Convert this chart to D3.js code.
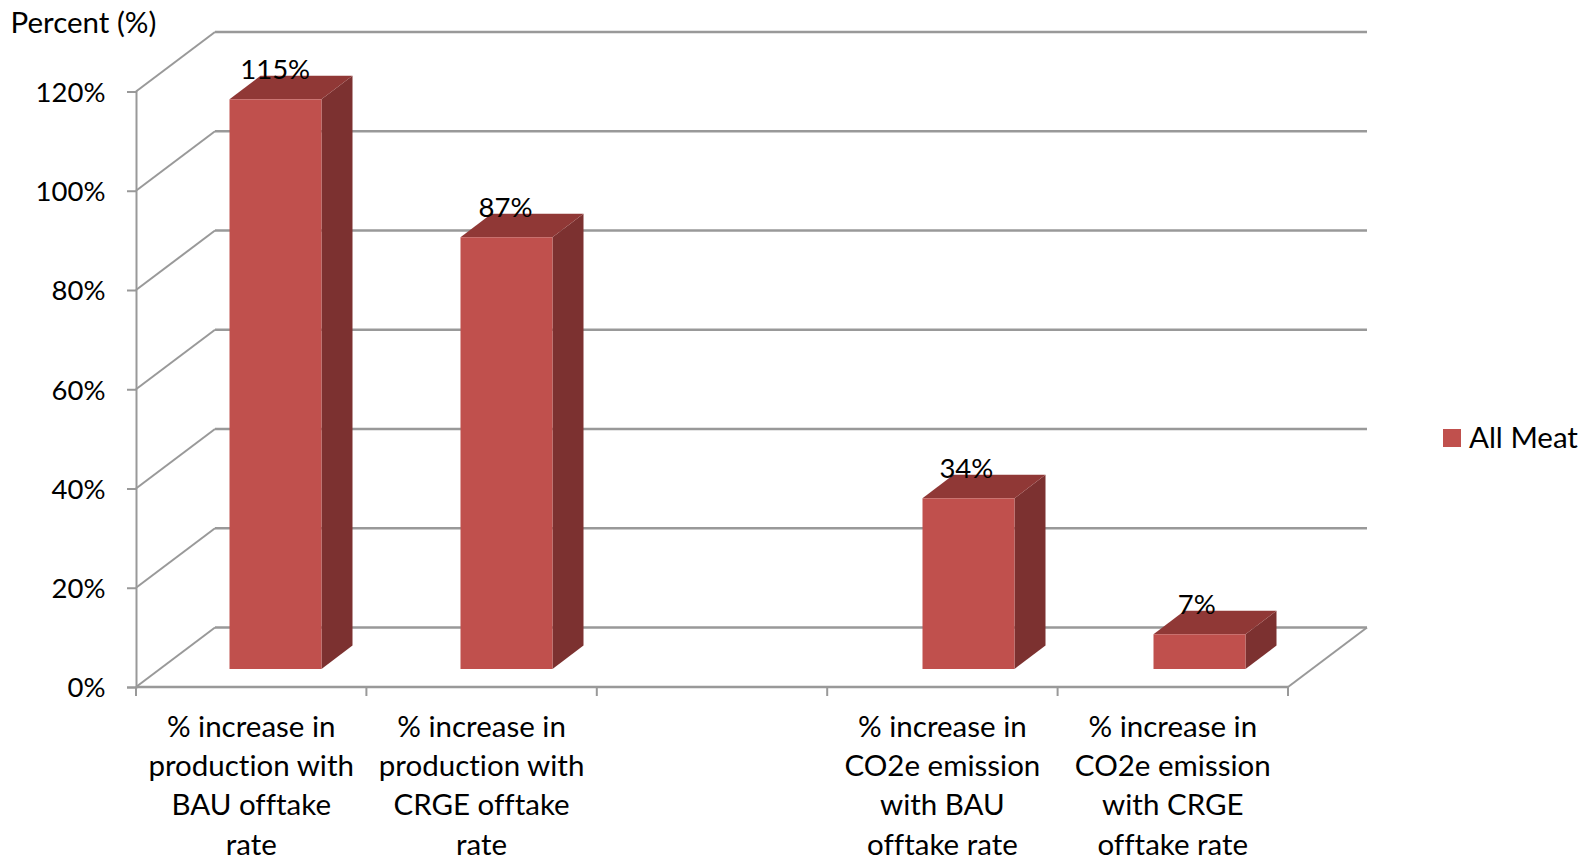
<!DOCTYPE html>
<html>
<head>
<meta charset="utf-8">
<script src="https://cdn.jsdelivr.net/npm/d3@7"></script>
<style>
html,body{margin:0;padding:0;background:#fff;overflow:hidden}
text{font-family:Lato,"Open Sans",sans-serif;fill:#000;font-variant-ligatures:none}
</style>
</head>
<body>
<svg id="c" width="1586" height="865"></svg>
<script>
const categories = ["bau-prod","crge-prod","gap","bau-co2","crge-co2"];
const categoryLines = [
  ["% increase in","production with","BAU offtake","rate"],
  ["% increase in","production with","CRGE offtake","rate"],
  [],
  ["% increase in","CO2e emission","with BAU","offtake rate"],
  ["% increase in","CO2e emission","with CRGE","offtake rate"]
];
const values = [114.8, 87, null, 34.4, 7];
const yTicks = [0,20,40,60,80,100,120];
const seriesName = "All Meat";
const yTitle = "Percent (%)";

const frontColor = "#C0504D", topColor = "#903836", sideColor = "#7C3130", gridColor = "#999999";
const fontSize = 27.5, wordSize = 29.5;

const svg = d3.select("#c");
const y = d3.scaleLinear().domain([0,120]).range([687,91.5]);
const x = d3.scaleBand().domain(categories).range([136,1288]);
const xBar = d3.scaleBand().domain(categories).range([160,1315]);
const depthX = 79, depthY = 59.5;
const barDepthX = 31, barDepthY = 23.5;
const floorOffsetY = 18;
const barW = 92;

const grid = svg.append("g").attr("fill","none").attr("stroke",gridColor);
yTicks.forEach(t=>{
  grid.append("line").attr("x1",x.range()[0]).attr("y1",y(t)).attr("x2",x.range()[0]+depthX).attr("y2",y(t)-depthY).attr("stroke-width",2);
  grid.append("line").attr("x1",x.range()[0]+depthX).attr("y1",y(t)-depthY).attr("x2",x.range()[1]+depthX).attr("y2",y(t)-depthY).attr("stroke-width",2.5);
});
grid.append("line").attr("x1",x.range()[1]).attr("y1",y(0)).attr("x2",x.range()[1]+depthX).attr("y2",y(0)-depthY).attr("stroke-width",2);

const yAxis = d3.axisLeft(y).tickValues(yTicks).tickFormat(d=>d+"%").tickSize(9).tickPadding(21.5);
const ga = svg.append("g").attr("transform",`translate(${x.range()[0]},0)`).call(yAxis);
ga.select(".domain").attr("stroke",gridColor).attr("stroke-width",2);
ga.selectAll(".tick line").attr("stroke",gridColor).attr("stroke-width",2);
ga.selectAll("text").style("font-size",fontSize+"px").style("font-family","Lato").attr("fill","#000").attr("dy","0.36em");

const step = x.bandwidth();
const edges = d3.range(categories.length+1).map(i=>x.range()[0]+i*step);
const xAxis = svg.append("g").attr("stroke",gridColor);
xAxis.append("line").attr("x1",x.range()[0]).attr("x2",x.range()[1]).attr("y1",y(0)).attr("y2",y(0)).attr("stroke-width",2.5);
xAxis.selectAll("line.t").data(edges).join("line").attr("class","t")
  .attr("x1",d=>d).attr("x2",d=>d).attr("y1",y(0)).attr("y2",y(0)+9).attr("stroke-width",2);

const data = categories.map((c,i)=>({c,v:values[i]})).filter(d=>d.v!==null);
const bars = svg.append("g").selectAll("g").data(data).join("g");
const bx = d=>xBar(d.c)+(xBar.bandwidth()-barW)/2;
const by = d=>y(d.v)-floorOffsetY;
const base = y(0)-floorOffsetY;
bars.append("polygon").attr("fill",sideColor).attr("points",d=>{
  const r=bx(d)+barW;
  return [[r,by(d)],[r+barDepthX,by(d)-barDepthY],[r+barDepthX,base-barDepthY],[r,base]].join(" ");
});
bars.append("polygon").attr("fill",topColor).attr("points",d=>{
  const l=bx(d),r=l+barW,t=by(d);
  return [[l,t],[l+barDepthX,t-barDepthY],[r+barDepthX,t-barDepthY],[r,t]].join(" ");
});
bars.append("rect").attr("fill",frontColor).attr("x",bx).attr("y",by).attr("width",barW).attr("height",d=>base-by(d));
bars.append("text").attr("x",d=>x(d.c)+step/2+24).attr("y",d=>by(d)-20.5).attr("text-anchor","middle")
  .style("font-size",fontSize+"px").text(d=>Math.round(d.v)+"%");

const lab = svg.append("g").selectAll("text").data(categories.map((c,i)=>({c,lines:categoryLines[i]}))).join("text")
  .attr("text-anchor","middle").style("font-size",wordSize+"px");
lab.selectAll("tspan").data(d=>d.lines.map(l=>({l,c:d.c}))).join("tspan")
  .attr("x",d=>x(d.c)+step/2).attr("y",(d,i)=>737+i*39.2).text(d=>d.l);

svg.append("text").attr("x",10.5).attr("y",32.5).style("font-size",wordSize+"px").text(yTitle);
svg.append("rect").attr("x",1443).attr("y",429).attr("width",18).attr("height",18).attr("fill",frontColor);
svg.append("text").attr("x",1469).attr("y",447.5).style("font-size",wordSize+"px").text(seriesName);
</script>
</body>
</html>
